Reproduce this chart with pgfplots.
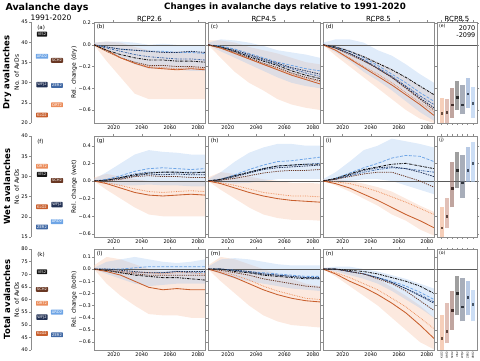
\documentclass[border=0pt]{standalone}
\usepackage{pgfplots}
\pgfplotsset{compat=1.18}
\usepackage{pgfplotstable}
\usepackage{fontspec}
\setmainfont{DejaVu Sans}

\definecolor{cklo}{RGB}{200,95,45}
\definecolor{cort}{RGB}{235,140,90}
\definecolor{csch}{RGB}{105,55,35}
\definecolor{cvis}{RGB}{20,20,20}
\definecolor{cwfj}{RGB}{35,50,85}
\definecolor{czer}{RGB}{65,105,165}
\definecolor{caro}{RGB}{110,165,230}
\definecolor{oband}{RGB}{248,195,165}
\definecolor{bband}{RGB}{165,198,240}
\definecolor{zeroc}{RGB}{90,90,90}
\definecolor{fr}{RGB}{140,140,140}
\definecolor{bA}{RGB}{240,175,140}
\definecolor{bB}{RGB}{205,150,135}
\definecolor{bC}{RGB}{150,105,95}
\definecolor{bD}{RGB}{95,95,95}
\definecolor{bE}{RGB}{110,120,140}
\definecolor{bF}{RGB}{135,165,210}
\definecolor{bG}{RGB}{170,200,238}

\newcommand{\fs}[1]{\fontsize{#1}{#1}\selectfont}

% ---- line data ----
\pgfplotstableread{
yr A Z W V S O K
2006 0 0 0 0 0 0 0
2015 -0.02 -0.03 -0.02 -0.05 -0.06 -0.06 -0.05
2025 -0.04 -0.06 -0.04 -0.09 -0.12 -0.12 -0.12
2035 -0.05 -0.09 -0.05 -0.12 -0.16 -0.17 -0.17
2045 -0.06 -0.11 -0.06 -0.14 -0.19 -0.20 -0.21
2055 -0.06 -0.12 -0.07 -0.14 -0.19 -0.21 -0.22
2065 -0.07 -0.13 -0.07 -0.15 -0.20 -0.22 -0.23
2075 -0.07 -0.13 -0.06 -0.15 -0.20 -0.21 -0.22
2085 -0.08 -0.14 -0.07 -0.16 -0.21 -0.22 -0.23
}\tabB
\pgfplotstableread{
yr A Z W V S O K
2006 0 0 0 0 0 0 0
2015 -0.01 -0.02 -0.02 -0.02 -0.03 -0.03 -0.03
2025 -0.04 -0.06 -0.05 -0.06 -0.07 -0.08 -0.08
2035 -0.08 -0.10 -0.09 -0.11 -0.12 -0.13 -0.13
2045 -0.12 -0.14 -0.13 -0.15 -0.17 -0.18 -0.18
2055 -0.16 -0.18 -0.17 -0.19 -0.21 -0.22 -0.23
2065 -0.19 -0.22 -0.21 -0.24 -0.26 -0.27 -0.28
2075 -0.22 -0.26 -0.24 -0.28 -0.30 -0.31 -0.32
2085 -0.24 -0.29 -0.27 -0.31 -0.33 -0.34 -0.36
}\tabC
\pgfplotstableread{
yr A Z W V S O K
2006 0 0 0 0 0 0 0
2015 -0.02 -0.03 -0.03 -0.02 -0.03 -0.05 -0.05
2025 -0.06 -0.08 -0.08 -0.06 -0.09 -0.12 -0.13
2035 -0.12 -0.14 -0.14 -0.11 -0.15 -0.20 -0.21
2045 -0.19 -0.21 -0.22 -0.17 -0.22 -0.27 -0.29
2055 -0.27 -0.29 -0.30 -0.23 -0.30 -0.35 -0.37
2065 -0.35 -0.38 -0.39 -0.30 -0.40 -0.44 -0.46
2075 -0.44 -0.47 -0.49 -0.38 -0.50 -0.53 -0.55
2085 -0.52 -0.55 -0.58 -0.46 -0.60 -0.62 -0.65
}\tabD
\pgfplotstableread{
yr A Z W V S O K
2006 0 0 0 0 0 0 0
2015 0.02 0.01 0.01 0.01 0.00 -0.02 -0.03
2025 0.06 0.04 0.03 0.04 0.02 -0.05 -0.08
2035 0.11 0.08 0.06 0.07 0.05 -0.09 -0.13
2045 0.14 0.10 0.08 0.09 0.06 -0.12 -0.16
2055 0.15 0.10 0.07 0.10 0.05 -0.13 -0.17
2065 0.14 0.10 0.08 0.10 0.05 -0.12 -0.16
2075 0.13 0.10 0.07 0.09 0.04 -0.11 -0.15
2085 0.14 0.10 0.07 0.10 0.04 -0.12 -0.16
}\tabG
\pgfplotstableread{
yr A Z W V S O K
2006 0 0 0 0 0 0 0
2015 0.02 0.02 0.01 0.02 0.01 -0.02 -0.03
2025 0.07 0.06 0.05 0.06 0.03 -0.05 -0.08
2035 0.13 0.10 0.09 0.10 0.06 -0.09 -0.13
2045 0.18 0.14 0.13 0.14 0.09 -0.13 -0.17
2055 0.22 0.17 0.15 0.17 0.11 -0.15 -0.20
2065 0.23 0.18 0.16 0.18 0.12 -0.17 -0.22
2075 0.25 0.19 0.17 0.19 0.12 -0.17 -0.23
2085 0.27 0.20 0.18 0.19 0.13 -0.18 -0.24
}\tabH
\pgfplotstableread{
yr A Z W V S O K
2006 0 0 0 0 0 0 0
2015 0.03 0.02 0.02 0.03 0.02 -0.01 -0.03
2025 0.09 0.06 0.07 0.08 0.05 -0.03 -0.08
2035 0.15 0.10 0.12 0.13 0.08 -0.07 -0.15
2045 0.20 0.13 0.15 0.16 0.10 -0.12 -0.22
2055 0.26 0.15 0.16 0.19 0.10 -0.18 -0.30
2065 0.29 0.14 0.14 0.20 0.05 -0.24 -0.38
2075 0.28 0.12 0.10 0.17 0.00 -0.31 -0.45
2085 0.22 0.10 0.05 0.14 -0.07 -0.38 -0.53
}\tabI
\pgfplotstableread{
yr A Z W V S O K
2006 0 0 0 0 0 0 0
2015 0.00 -0.01 0.00 -0.01 -0.01 -0.01 -0.02
2025 0.00 -0.02 -0.01 -0.03 -0.03 -0.02 -0.05
2035 0.01 -0.03 -0.02 -0.05 -0.04 -0.03 -0.10
2045 0.02 -0.03 -0.03 -0.06 -0.05 -0.03 -0.15
2055 0.02 -0.03 -0.03 -0.07 -0.05 -0.04 -0.17
2065 0.02 -0.02 -0.02 -0.07 -0.05 -0.03 -0.16
2075 0.02 -0.03 -0.02 -0.08 -0.05 -0.03 -0.17
2085 0.02 -0.03 -0.02 -0.09 -0.05 -0.04 -0.17
}\tabL
\pgfplotstableread{
yr A Z W V S O K
2006 0 0 0 0 0 0 0
2015 0.00 0.00 0.00 0.00 -0.01 -0.02 -0.03
2025 -0.01 -0.01 -0.01 -0.02 -0.03 -0.05 -0.07
2035 -0.02 -0.03 -0.02 -0.03 -0.05 -0.09 -0.12
2045 -0.03 -0.04 -0.04 -0.05 -0.08 -0.14 -0.17
2055 -0.04 -0.05 -0.05 -0.06 -0.10 -0.18 -0.21
2065 -0.05 -0.06 -0.06 -0.07 -0.12 -0.21 -0.24
2075 -0.06 -0.07 -0.07 -0.08 -0.14 -0.24 -0.26
2085 -0.06 -0.08 -0.07 -0.08 -0.15 -0.25 -0.27
}\tabM
\pgfplotstableread{
yr A Z W V S O K
2006 0 0 0 0 0 0 0
2015 0.00 0.00 0.00 0.00 0.00 -0.03 -0.04
2025 -0.02 -0.02 -0.02 -0.01 -0.02 -0.07 -0.10
2035 -0.04 -0.04 -0.04 -0.02 -0.04 -0.12 -0.15
2045 -0.07 -0.07 -0.07 -0.04 -0.08 -0.17 -0.21
2055 -0.10 -0.11 -0.11 -0.07 -0.12 -0.24 -0.28
2065 -0.14 -0.16 -0.16 -0.10 -0.18 -0.31 -0.36
2075 -0.19 -0.21 -0.22 -0.14 -0.26 -0.40 -0.46
2085 -0.25 -0.27 -0.28 -0.20 -0.34 -0.49 -0.57
}\tabN

% ---- band outlines: upper edge forward, lower edge back (o = orange band, b = blue band) ----
\pgfplotstableread{
x o b
2006 0.02 0.02
2015 0.03 0.03
2025 0.02 0.03
2035 -0.02 0.02
2045 -0.05 0.00
2055 -0.06 0.01
2065 -0.06 0.00
2075 -0.06 0.00
2085 -0.07 0.00
2085 -0.50 -0.24
2075 -0.50 -0.24
2065 -0.50 -0.23
2055 -0.50 -0.22
2045 -0.50 -0.22
2035 -0.45 -0.18
2025 -0.30 -0.12
2015 -0.15 -0.06
2006 0 0
}\bandB
\pgfplotstableread{
x o b
2006 0.04 0.02
2015 0.04 0.05
2025 0.02 0.04
2035 -0.02 0.02
2045 -0.05 -0.01
2055 -0.08 -0.05
2065 -0.12 -0.07
2075 -0.16 -0.09
2085 -0.18 -0.12
2085 -0.60 -0.40
2075 -0.58 -0.38
2065 -0.55 -0.35
2055 -0.50 -0.30
2045 -0.42 -0.24
2035 -0.35 -0.18
2025 -0.25 -0.12
2015 -0.12 -0.06
2006 0 0
}\bandC
\pgfplotstableread{
x o b
2006 0.01 0.02
2015 0.00 0.05
2025 -0.05 0.05
2035 -0.10 0.02
2045 -0.16 -0.05
2055 -0.22 -0.10
2065 -0.30 -0.18
2075 -0.38 -0.27
2085 -0.45 -0.35
2085 -0.72 -0.70
2075 -0.68 -0.62
2065 -0.60 -0.52
2055 -0.50 -0.42
2045 -0.40 -0.33
2035 -0.30 -0.25
2025 -0.20 -0.15
2015 -0.10 -0.07
2006 0 0
}\bandD
\pgfplotstableread{
x o b
2006 0.04 0.02
2015 0.08 0.10
2025 0.05 0.20
2035 0.02 0.30
2045 0.00 0.35
2055 -0.01 0.33
2065 0.00 0.32
2075 0.00 0.30
2085 0.00 0.30
2085 -0.40 -0.06
2075 -0.40 -0.06
2065 -0.40 -0.05
2055 -0.40 -0.05
2045 -0.38 -0.04
2035 -0.30 -0.05
2025 -0.20 -0.05
2015 -0.10 -0.03
2006 0 0
}\bandG
\pgfplotstableread{
x o b
2006 0.04 0.02
2015 0.10 0.10
2025 0.08 0.22
2035 0.05 0.32
2045 0.02 0.38
2055 0.00 0.42
2065 -0.02 0.42
2075 -0.02 0.40
2085 -0.03 0.40
2085 -0.45 0.02
2075 -0.44 0.02
2065 -0.44 0.02
2055 -0.42 0.02
2045 -0.38 0.00
2035 -0.30 -0.02
2025 -0.20 -0.03
2015 -0.10 -0.02
2006 0 0
}\bandH
\pgfplotstableread{
x o b
2006 0.02 0.02
2015 0.02 0.10
2025 0.00 0.22
2035 -0.03 0.35
2045 -0.07 0.40
2055 -0.12 0.48
2065 -0.20 0.45
2075 -0.28 0.42
2085 -0.35 0.38
2085 -0.62 -0.15
2075 -0.55 -0.10
2065 -0.45 -0.05
2055 -0.38 0.00
2045 -0.28 0.02
2035 -0.20 0.02
2025 -0.12 0.00
2015 -0.05 -0.01
2006 0 0
}\bandI
\pgfplotstableread{
x o b
2006 0.03 0.01
2015 0.10 0.06
2025 0.08 0.08
2035 0.04 0.10
2045 0.00 0.08
2055 -0.02 0.06
2065 -0.01 0.05
2075 -0.03 0.06
2085 -0.04 0.08
2085 -0.40 -0.12
2075 -0.40 -0.12
2065 -0.38 -0.12
2055 -0.38 -0.13
2045 -0.37 -0.14
2035 -0.30 -0.12
2025 -0.22 -0.08
2015 -0.12 -0.04
2006 0 0
}\bandL
\pgfplotstableread{
x o b
2006 0.03 0.02
2015 0.10 0.08
2025 0.08 0.09
2035 0.04 0.08
2045 0.00 0.06
2055 -0.04 0.04
2065 -0.08 0.03
2075 -0.12 0.03
2085 -0.14 0.03
2085 -0.48 -0.18
2075 -0.47 -0.17
2065 -0.46 -0.16
2055 -0.43 -0.14
2045 -0.38 -0.12
2035 -0.30 -0.10
2025 -0.20 -0.08
2015 -0.10 -0.04
2006 0 0
}\bandM
\pgfplotstableread{
x o b
2006 0.01 0.01
2015 0.00 0.02
2025 -0.02 0.02
2035 -0.05 0.00
2045 -0.08 -0.02
2055 -0.15 -0.05
2065 -0.22 -0.08
2075 -0.30 -0.12
2085 -0.40 -0.16
2085 -0.66 -0.40
2075 -0.60 -0.32
2065 -0.50 -0.25
2055 -0.40 -0.18
2045 -0.30 -0.12
2035 -0.22 -0.08
2025 -0.14 -0.05
2015 -0.06 -0.02
2006 0 0
}\bandN

\pgfplotsset{
 base/.style={scale only axis, font=\fs{5}, axis line style={draw=fr, line width=0.7pt},
   every tick/.style={fr, line width=0.4pt}, tick align=outside, major tick length=2pt,
   xticklabel style={inner sep=1pt}, yticklabel style={inner sep=1pt},
   title style={font=\fs{7}, yshift=-9pt}, scaled ticks=false},
 ts/.style={base, width=111pt, height=101pt, xmin=2006, xmax=2085,
   xtick={2020,2040,2060,2080}, xticklabels={2020,2040,2060,2080},
   ylabel style={font=\fs{6}, yshift=-3pt}},
 r1/.style={ymin=-0.72, ymax=0.21, ytick={-0.6,-0.4,-0.2,0,0.2}},
 r1l/.style={yticklabels={−0.6,−0.4,−0.2,0.0,0.2}},
 r2/.style={ymin=-0.635, ymax=0.51, ytick={-0.6,-0.4,-0.2,0,0.2,0.4}},
 r2l/.style={yticklabels={−0.6,−0.4,−0.2,0.0,0.2,0.4}},
 r3/.style={ymin=-0.665, ymax=0.165, ytick={-0.6,-0.5,-0.4,-0.3,-0.2,-0.1,0,0.1}},
 r3l/.style={yticklabels={−0.6,−0.5,−0.4,−0.3,−0.2,−0.1,0.0,0.1}},
 lp/.style={base, width=35pt, height=101pt, hide x axis, axis y line*=left, xmin=0, xmax=35,
   ylabel style={font=\fs{6}, yshift=-2pt}, ylabel={No. of AvDs}},
 bp/.style={base, width=40pt, height=101pt, xmin=0.1, xmax=7.8, xtick={1,...,7}, xticklabels={}, yticklabels={}},
 lA/.style={caro, line width=0.8pt, dash pattern=on 3pt off 1.5pt},
 lZ/.style={czer, line width=0.8pt, dash pattern=on 2pt off 1pt on 0.6pt off 1pt},
 lW/.style={cwfj, line width=0.8pt, dash pattern=on 1.5pt off 1pt},
 lV/.style={cvis, line width=0.85pt, dash pattern=on 2.5pt off 1pt on 0.7pt off 1pt},
 lS/.style={csch, line width=0.8pt, dash pattern=on 1.2pt off 1pt},
 lO/.style={cort, line width=0.8pt, dash pattern=on 0.7pt off 1pt},
 lK/.style={cklo, line width=0.85pt},
}

\newcommand{\tsdata}[2]{%
 \addplot[fill=oband, fill opacity=0.36, draw=none, forget plot] table[x=x,y=o]{#2};
 \addplot[fill=bband, fill opacity=0.34, draw=none, forget plot] table[x=x,y=b]{#2};
 \addplot[zeroc, line width=0.6pt, forget plot] coordinates {(2000,0) (2100,0)};
 \addplot[lA] table[x=yr,y=A]{#1};
 \addplot[lZ] table[x=yr,y=Z]{#1};
 \addplot[lW] table[x=yr,y=W]{#1};
 \addplot[lS] table[x=yr,y=S]{#1};
 \addplot[lO] table[x=yr,y=O]{#1};
 \addplot[lK] table[x=yr,y=K]{#1};
 \addplot[lV] table[x=yr,y=V]{#1};
}
\newcommand{\vb}[5]{%
 \addplot[draw=#2, line width=4.2pt, opacity=0.6, forget plot] coordinates {(#1,#3) (#1,#4)};
 \addplot[only marks, mark=square*, mark size=0.8pt, color=#2!45!black, forget plot] coordinates {(#1,#5)};
}
\newcommand{\stlab}[5]{%
 \addplot[draw=none, mark=none, nodes near coords={#5},
  every node near coord/.style={fill=#3, text=#4, font=\fs{3.7}, inner sep=1pt, rounded corners=0.6pt, anchor=center}]
  coordinates {(#1,#2)};
}
\newcommand{\plab}[1]{\node[anchor=north west, font=\fs{5.5}, inner sep=1.5pt] at (rel axis cs:0.01,0.99) {#1};}

\begin{document}
\begin{tikzpicture}
\useasboundingbox (0pt,0pt) rectangle (480pt,360pt);

% headings
\node[font=\bfseries\fs{9.5}] at (47pt,352pt) {Avalanche days};
\node[font=\fs{7.5}] at (51pt,342pt) {1991-2020};
\node[font=\bfseries\fs{8.7}] at (285pt,353pt) {Changes in avalanche days relative to 1991-2020};
\node[rotate=90, font=\bfseries\fs{8.5}] at (7pt,287.5pt) {Dry avalanches};
\node[rotate=90, font=\bfseries\fs{8.5}] at (7pt,173.5pt) {Wet avalanches};
\node[rotate=90, font=\bfseries\fs{8.5}] at (7pt,60.5pt) {Total avalanches};

% ===== Row 1 =====
\begin{axis}[lp, at={(31pt,237pt)}, anchor=south west, ymin=20, ymax=45, ytick={20,25,30,35,40,45}, yticklabels={20,25,30,35,40,45}]
 \stlab{11}{42}{cvis}{white}{VIS2}
 \stlab{11}{36.5}{caro}{white}{ARO2}
 \stlab{26}{35.5}{csch}{white}{SCH2}
 \stlab{11}{29.5}{cwfj}{white}{WFJ2}
 \stlab{26}{29.3}{czer}{white}{ZER2}
 \stlab{26}{24.5}{cort}{white}{ORT2}
 \stlab{11}{22}{cklo}{white}{KLO2}
 \node[anchor=north west, font=\fs{5.5}] at (rel axis cs:0.08,1.0) {(a)};
\end{axis}
\begin{axis}[ts, r1, r1l, at={(94pt,237pt)}, anchor=south west, ylabel={Rel. change (dry)}, title={RCP2.6}]
 \tsdata{\tabB}{\bandB} \plab{(b)}
\end{axis}
\begin{axis}[ts, r1, yticklabels={}, at={(208pt,237pt)}, anchor=south west, width=112pt, title={RCP4.5}]
 \tsdata{\tabC}{\bandC} \plab{(c)}
\end{axis}
\begin{axis}[ts, r1, yticklabels={}, at={(323pt,237pt)}, anchor=south west, title={RCP8.5}]
 \tsdata{\tabD}{\bandD} \plab{(d)}
\end{axis}
\begin{axis}[bp, r1, at={(437pt,237pt)}, anchor=south west, title={RCP8.5}]
 \addplot[zeroc, line width=0.6pt, forget plot] coordinates {(-1,0) (10,0)};
 \vb{1}{bA}{-0.72}{-0.49}{-0.63}
 \vb{2}{bB}{-0.72}{-0.50}{-0.62}
 \vb{3}{bC}{-0.67}{-0.40}{-0.55}
 \vb{4}{bD}{-0.60}{-0.33}{-0.48}
 \vb{5}{bE}{-0.64}{-0.37}{-0.55}
 \vb{6}{bF}{-0.58}{-0.31}{-0.45}
 \vb{7}{bG}{-0.67}{-0.39}{-0.54}
 \node[anchor=north west, font=\fs{4.5}, inner sep=1pt] at (rel axis cs:0.02,0.99) {(e)};
 \node[anchor=north east, align=right, font=\fs{6.5}, inner sep=1.5pt] at (rel axis cs:1,0.98) {2070\\-2099};
\end{axis}

% ===== Row 2 =====
\begin{axis}[lp, at={(31pt,123pt)}, anchor=south west, ymin=15, ymax=40, ytick={15,20,25,30,35,40}, yticklabels={15,20,25,30,35,40}]
 \stlab{11}{32.5}{cort}{white}{ORT2}
 \stlab{11}{30.5}{cvis}{white}{VIS2}
 \stlab{26}{29}{csch}{white}{SCH2}
 \stlab{11}{22.5}{cklo}{white}{KLO2}
 \stlab{26}{23}{cwfj}{white}{WFJ2}
 \stlab{11}{17.5}{czer}{white}{ZER2}
 \stlab{26}{18.8}{caro}{white}{ARO2}
 \node[anchor=north west, font=\fs{5.5}] at (rel axis cs:0.08,1.0) {(f)};
\end{axis}
\begin{axis}[ts, r2, r2l, at={(94pt,123pt)}, anchor=south west, ylabel={Rel. change (wet)}]
 \tsdata{\tabG}{\bandG} \plab{(g)}
\end{axis}
\begin{axis}[ts, r2, yticklabels={}, at={(208pt,123pt)}, anchor=south west, width=112pt]
 \tsdata{\tabH}{\bandH} \plab{(h)}
\end{axis}
\begin{axis}[ts, r2, yticklabels={}, at={(323pt,123pt)}, anchor=south west]
 \tsdata{\tabI}{\bandI} \plab{(i)}
\end{axis}
\begin{axis}[bp, r2, at={(437pt,123pt)}, anchor=south west]
 \addplot[zeroc, line width=0.6pt, forget plot] coordinates {(-1,0) (10,0)};
 \vb{1}{bA}{-0.63}{-0.29}{-0.53}
 \vb{2}{bB}{-0.53}{-0.19}{-0.40}
 \vb{3}{bC}{-0.30}{0.21}{-0.08}
 \vb{4}{bD}{-0.08}{0.33}{0.12}
 \vb{5}{bE}{-0.19}{0.30}{-0.02}
 \vb{6}{bF}{-0.01}{0.38}{0.12}
 \vb{7}{bG}{-0.01}{0.44}{0.20}
 \node[anchor=north west, font=\fs{4.5}, inner sep=1pt] at (rel axis cs:0.02,0.99) {(j)};
\end{axis}

% ===== Row 3 =====
\begin{axis}[lp, at={(31pt,10pt)}, anchor=south west, ymin=40, ymax=80, ytick={40,45,50,55,60,65,70,75,80}, yticklabels={40,45,50,55,60,65,70,75,80}]
 \stlab{11}{71}{cvis}{white}{VIS2}
 \stlab{11}{64}{csch}{white}{SCH2}
 \stlab{11}{58.5}{cort}{white}{ORT2}
 \stlab{11}{53}{cwfj}{white}{WFJ2}
 \stlab{26}{55}{caro}{white}{ARO2}
 \stlab{11}{46.5}{cklo}{white}{KLO2}
 \stlab{26}{46}{czer}{white}{ZER2}
 \node[anchor=north west, font=\fs{5.5}] at (rel axis cs:0.08,1.0) {(k)};
\end{axis}
\begin{axis}[ts, r3, r3l, at={(94pt,10pt)}, anchor=south west, ylabel={Rel. change (both)}]
 \tsdata{\tabL}{\bandL} \plab{(l)}
\end{axis}
\begin{axis}[ts, r3, yticklabels={}, at={(208pt,10pt)}, anchor=south west, width=112pt]
 \tsdata{\tabM}{\bandM} \plab{(m)}
\end{axis}
\begin{axis}[ts, r3, yticklabels={}, at={(323pt,10pt)}, anchor=south west]
 \tsdata{\tabN}{\bandN} \plab{(n)}
\end{axis}
\begin{axis}[bp, r3, at={(437pt,10pt)}, anchor=south west, major tick length=1.2pt,
  xticklabels={KLO2,ORT2,SCH2,VIS2,WFJ2,ZER2,ARO2},
  xticklabel style={rotate=90, anchor=east, font=\fs{2.6}, inner sep=0.3pt}]
 \addplot[zeroc, line width=0.6pt, forget plot] coordinates {(-1,0) (10,0)};
 \vb{1}{bA}{-0.665}{-0.38}{-0.57}
 \vb{2}{bB}{-0.61}{-0.28}{-0.51}
 \vb{3}{bC}{-0.50}{-0.18}{-0.34}
 \vb{4}{bD}{-0.38}{-0.06}{-0.20}
 \vb{5}{bE}{-0.43}{-0.07}{-0.31}
 \vb{6}{bF}{-0.38}{-0.10}{-0.23}
 \vb{7}{bG}{-0.43}{-0.17}{-0.29}
 \node[anchor=north west, font=\fs{4.5}, inner sep=1pt] at (rel axis cs:0.02,0.99) {(o)};
\end{axis}
\end{tikzpicture}
\end{document}
